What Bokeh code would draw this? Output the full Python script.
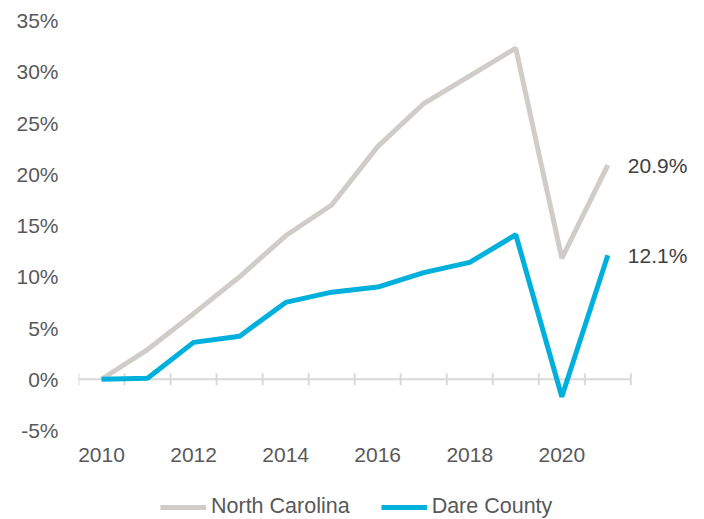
from bokeh.plotting import figure
from bokeh.models import (Range1d, FixedTicker, Label, Legend, LegendItem,
                          CustomJSTickFormatter)
from bokeh.core.properties import value
from bokeh.embed import file_html
from bokeh.resources import INLINE

years = [2010, 2011, 2012, 2013, 2014, 2015, 2016, 2017, 2018, 2019, 2020, 2021]
north_carolina = [0.0, 2.9, 6.4, 10.0, 14.0, 17.0, 22.7, 26.9, 29.6, 32.3, 11.8, 20.9]
dare_county = [0.0, 0.1, 3.6, 4.2, 7.5, 8.5, 9.0, 10.4, 11.4, 14.1, -1.7, 12.1]
series_names = ["North Carolina", "Dare County"]
x_tick_labels = [2010, 2012, 2014, 2016, 2018, 2020]
y_ticks = [-5, 0, 5, 10, 15, 20, 25, 30, 35]

FONT = "Liberation Sans"
GRAY_LINE = "#d0cdc9"
BLUE_LINE = "#00b0dc"
TEXT = "#595959"

# frame extends to the right and bottom edges so that end labels, year labels
# and the legend are drawn inside it (and not clipped)
p = figure(width=704, height=519, output_backend="svg", toolbar_location=None,
           x_axis_type=None,
           x_range=Range1d(years[0] - 0.5, years[-1] + 2.1),
           y_range=Range1d(y_ticks[0] - 8.68, y_ticks[-1]),
           min_border_left=78, min_border_right=0, min_border_top=20,
           min_border_bottom=0)
p.outline_line_color = None
p.xgrid.visible = False
p.ygrid.visible = False
p.background_fill_color = "white"
p.border_fill_color = "white"

# y axis
p.yaxis.ticker = FixedTicker(ticks=y_ticks)
p.yaxis.formatter = CustomJSTickFormatter(code="return tick + '%';")
p.yaxis.axis_line_color = None
p.yaxis.major_tick_line_color = None
p.yaxis.minor_tick_line_color = None
p.yaxis.major_tick_out = 0
p.yaxis.major_tick_in = 0
p.yaxis.major_label_standoff = 20
p.yaxis.major_label_text_font = FONT
p.yaxis.major_label_text_font_size = "21px"
p.yaxis.major_label_text_color = TEXT

# horizontal category axis line at 0 with boundary ticks
bounds = [y - 0.5 for y in years] + [years[-1] + 0.5]
p.segment(x0=bounds[0], y0=0, x1=bounds[-1], y1=0, line_color="#d9d9d9", line_width=2)
p.scatter(x=bounds, y=[0] * len(bounds), marker="dash", size=12, angle=1.5708,
          line_color="#d9d9d9", line_width=2)

# year labels, low position below the -5% level
p.text(x=x_tick_labels, y=[y_ticks[0]] * len(x_tick_labels),
       text=[str(t) for t in x_tick_labels], y_offset=24,
       text_align="center", text_baseline="middle",
       text_font=value(FONT), text_font_size="21px", text_color=TEXT)

r_nc = p.line(years, north_carolina, line_color=GRAY_LINE, line_width=5)
r_dc = p.line(years, dare_county, line_color=BLUE_LINE, line_width=5)

for vals in (north_carolina, dare_county):
    p.add_layout(Label(x=years[-1], y=vals[-1], text=f"{vals[-1]:.1f}%",
                       x_offset=20, text_baseline="middle",
                       text_font=FONT, text_font_size="21px", text_color="#404040"))

legend = Legend(items=[LegendItem(label=series_names[0], renderers=[r_nc]),
                       LegendItem(label=series_names[1], renderers=[r_dc])],
                orientation="horizontal", location=(82, 0),
                label_text_font=FONT, label_text_font_size="21.5px",
                label_text_color=TEXT, glyph_width=46, label_standoff=5,
                spacing=31, padding=0, margin=0, border_line_color=None,
                background_fill_alpha=0)
p.add_layout(legend)

open("out.html", "w").write(file_html(p, INLINE))
